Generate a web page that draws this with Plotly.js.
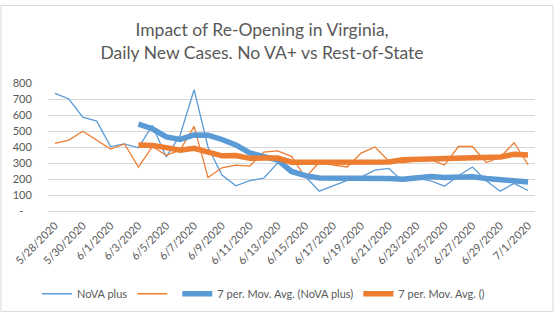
<!DOCTYPE html>
<html>
<head>
<meta charset="utf-8">
<script src="https://cdn.plot.ly/plotly-3.0.1.min.js"></script>
<style>html,body{margin:0;padding:0;background:#fff}#chart{width:556px;height:321px}</style>
</head>
<body>
<div id="chart"></div>
<script>
const dates = ["5/28/2020","5/29/2020","5/30/2020","5/31/2020","6/1/2020","6/2/2020","6/3/2020","6/4/2020","6/5/2020","6/6/2020","6/7/2020","6/8/2020","6/9/2020","6/10/2020","6/11/2020","6/12/2020","6/13/2020","6/14/2020","6/15/2020","6/16/2020","6/17/2020","6/18/2020","6/19/2020","6/20/2020","6/21/2020","6/22/2020","6/23/2020","6/24/2020","6/25/2020","6/26/2020","6/27/2020","6/28/2020","6/29/2020","6/30/2020","7/1/2020"];
const novaPlus = [735,700,586,562,403,419,395,535,338,475,758,400,225,157,190,205,300,255,215,124,160,192,212,255,266,185,205,189,155,220,275,189,124,173,128];
const restOfState = [423,443,498,443,387,419,275,403,348,382,529,209,270,287,281,368,376,342,209,305,287,275,362,400,311,301,315,321,287,403,403,303,336,427,289];
const novaMA7 = [null,null,null,null,null,null,543,514,463,447,475,474,447,413,363,344,319,247,221,207,207,207,208,202,203,199,211,215,210,211,214,203,194,189,181];
const restMA7 = [null,null,null,null,null,null,413,410,396,380,392,366,345,347,329,332,331,305,305,310,310,309,308,311,307,320,322,326,328,334,334,333,338,354,350];
const xTickVals = dates.filter((d,i)=>i%2===0);
const yTickVals = [0,100,200,300,400,500,600,700,800];
const yTickText = ["-\u00a0\u00a0\u00a0","100","200","300","400","500","600","700","800"];

const blue = "#5B9BD5", orange = "#ED7D31";
const traces = [
  {x: dates, y: novaPlus, type: "scatter", mode: "lines", name: "NoVA plus", line: {color: blue, width: 1.3}},
  {x: dates, y: restOfState, type: "scatter", mode: "lines", name: "", line: {color: orange, width: 1.3}},
  {x: dates, y: novaMA7, type: "scatter", mode: "lines", name: "7 per. Mov. Avg. (NoVA plus)", line: {color: blue, width: 5.5}},
  {x: dates, y: restMA7, type: "scatter", mode: "lines", name: "7 per. Mov. Avg. ()", line: {color: orange, width: 5.5}}
];
const px = v => (v-48)/487, py = v => (214.3-v)/131;
const layout = {
  width: 556, height: 321,
  margin: {l: 48, r: 21, t: 83, b: 107, pad: 0},
  paper_bgcolor: "#fff", plot_bgcolor: "#fff",
  font: {family: "Lato, 'Open Sans', sans-serif", color: "#595959", size: 11},
  title: {text: "Impact of Re-Opening in Virginia,<br>Daily New Cases. No VA+ vs Rest-of-State",
          font: {family: "Lato, sans-serif", size: 17.5, color: "#595959"},
          xref: "container", yref: "container", x: 262/556, xanchor: "center", y: 1-36/321, yanchor: "middle"},
  xaxis: {type: "category", range: [-0.5, 34.5], tickmode: "array", tickvals: xTickVals, ticktext: xTickVals,
          tickangle: -45, showgrid: false, zeroline: false, showline: false, ticks: "outside", ticklen: 3, tickcolor: "rgba(0,0,0,0)",
          tickfont: {size: 11, color: "#595959"}, fixedrange: true},
  yaxis: {range: [0, 800], tickmode: "array", tickvals: yTickVals, ticktext: yTickText, showgrid: true, gridcolor: "#d9d9d9", gridwidth: 1,
          zeroline: true, zerolinecolor: "#d9d9d9", zerolinewidth: 1, showline: false, ticks: "outside", ticklen: 13, tickcolor: "rgba(0,0,0,0)",
          tickfont: {size: 11, color: "#595959"}, fixedrange: true},
  showlegend: true,
  legend: {orientation: "h", x: px(37), xanchor: "left", y: py(299), yanchor: "middle", font: {size: 11, color: "#595959"}, bgcolor: "rgba(0,0,0,0)"},
  shapes: [
    {type: "rect", xref: "paper", yref: "paper", x0: px(1), x1: px(553), y0: py(317), y1: py(4), line: {color: "#d9d9d9", width: 1}, layer: "below"}
  ]
};
Plotly.newPlot("chart", traces, layout, {displayModeBar: false, staticPlot: true});
</script>
</body>
</html>
